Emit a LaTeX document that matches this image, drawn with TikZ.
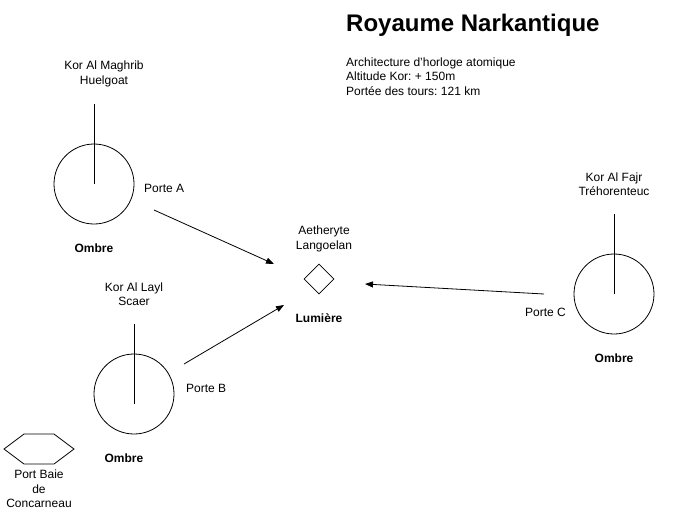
\documentclass[tikz,border=0pt]{standalone}
\usepackage{fontspec}
\setmainfont{Liberation Sans}
\usetikzlibrary{arrows.meta,shapes.geometric,positioning}
\definecolor{ink}{HTML}{000000}
\newcommand{\txtnorm}{\fontsize{12}{14.5}\selectfont}
\newcommand{\txttitre}{\fontsize{24}{28}\selectfont\bfseries}
\frenchspacing

\begin{document}
\begin{tikzpicture}[x=1pt,y=-1pt,
  tour/.style={circle,draw=ink,line width=0.8pt,minimum size=80pt,inner sep=0},
  pierre/.style={diamond,draw=ink,line width=0.8pt,minimum size=30pt,inner sep=0},
  lbl/.style={align=center,inner sep=0,font=\txtnorm,text=ink},
  ombre/.style={inner sep=0,font=\txtnorm\bfseries,text=ink},
  lien/.style={ink,line width=0.8pt,-{Triangle[length=8pt,width=6pt]}}]
\useasboundingbox (0,0) rectangle (679,515);
% titre et notes
\node[anchor=west,inner sep=0,font=\txttitre,text=ink] (titre) at (346,25) {Royaume Narkantique};
\node[lbl,anchor=north west,align=left] (notes) at (346,57.5) {Architecture d'horloge atomique\\Altitude Kor: + 150m\\Portée des tours: 121 km};
% tours
\node[tour] (ta) at (94,184) {};
\node[tour] (tb) at (134,394) {};
\node[tour] (tc) at (614,294) {};
\coordinate (ha) at (94,104);
\coordinate (hb) at (134,324);
\coordinate (hc) at (614,214);
\coordinate (bb) at (134,404);
\draw[ink,line width=0.8pt] (ha) -- (ta.center);
\draw[ink,line width=0.8pt] (hb) -- (bb);
\draw[ink,line width=0.8pt] (hc) -- (tc.center);
\node[lbl] (na) at (104,74) {Kor Al Maghrib\\Huelgoat};
\node[lbl] (nb) at (134,294) {Kor Al Layl\\Scaer};
\node[lbl] (nc) at (614,184) {Kor Al Fajr\\Tréhorenteuc};
\node[ombre] (oa) at (94,248) {Ombre};
\node[ombre] (ob) at (124,458) {Ombre};
\node[ombre] (oc) at (614,358) {Ombre};
\node[lbl,anchor=west] (pa) at (144,188) {Porte A};
\node[lbl,anchor=west] (pb) at (186,388) {Porte B};
\node[lbl,anchor=east] (pc) at (566,312) {Porte C};
% aetheryte
\node[pierre] (ae) at (319,279) {};
\node[lbl] (nae) at (324,239) {Aetheryte\\Langoelan};
\node[ombre] (lu) at (319,318) {Lumière};
% port
\draw[ink,line width=0.8pt] (4,449) -- (24,434) -- (54,434) -- (74,449) -- (54,464) -- (24,464) -- cycle;
\coordinate (port) at (39,449);
\node[lbl] (np) at (39,489) {Port Baie\\de\\Concarneau};
% liens
\coordinate (da) at (154,210);
\coordinate (fa) at (274,264);
\coordinate (db) at (184,364);
\coordinate (fb) at (284,305);
\coordinate (dc) at (544,294);
\coordinate (fc) at (365,284);
\foreach \d/\f in {da/fa,db/fb,dc/fc} \draw[lien] (\d) -- (\f);
\end{tikzpicture}
\end{document}
